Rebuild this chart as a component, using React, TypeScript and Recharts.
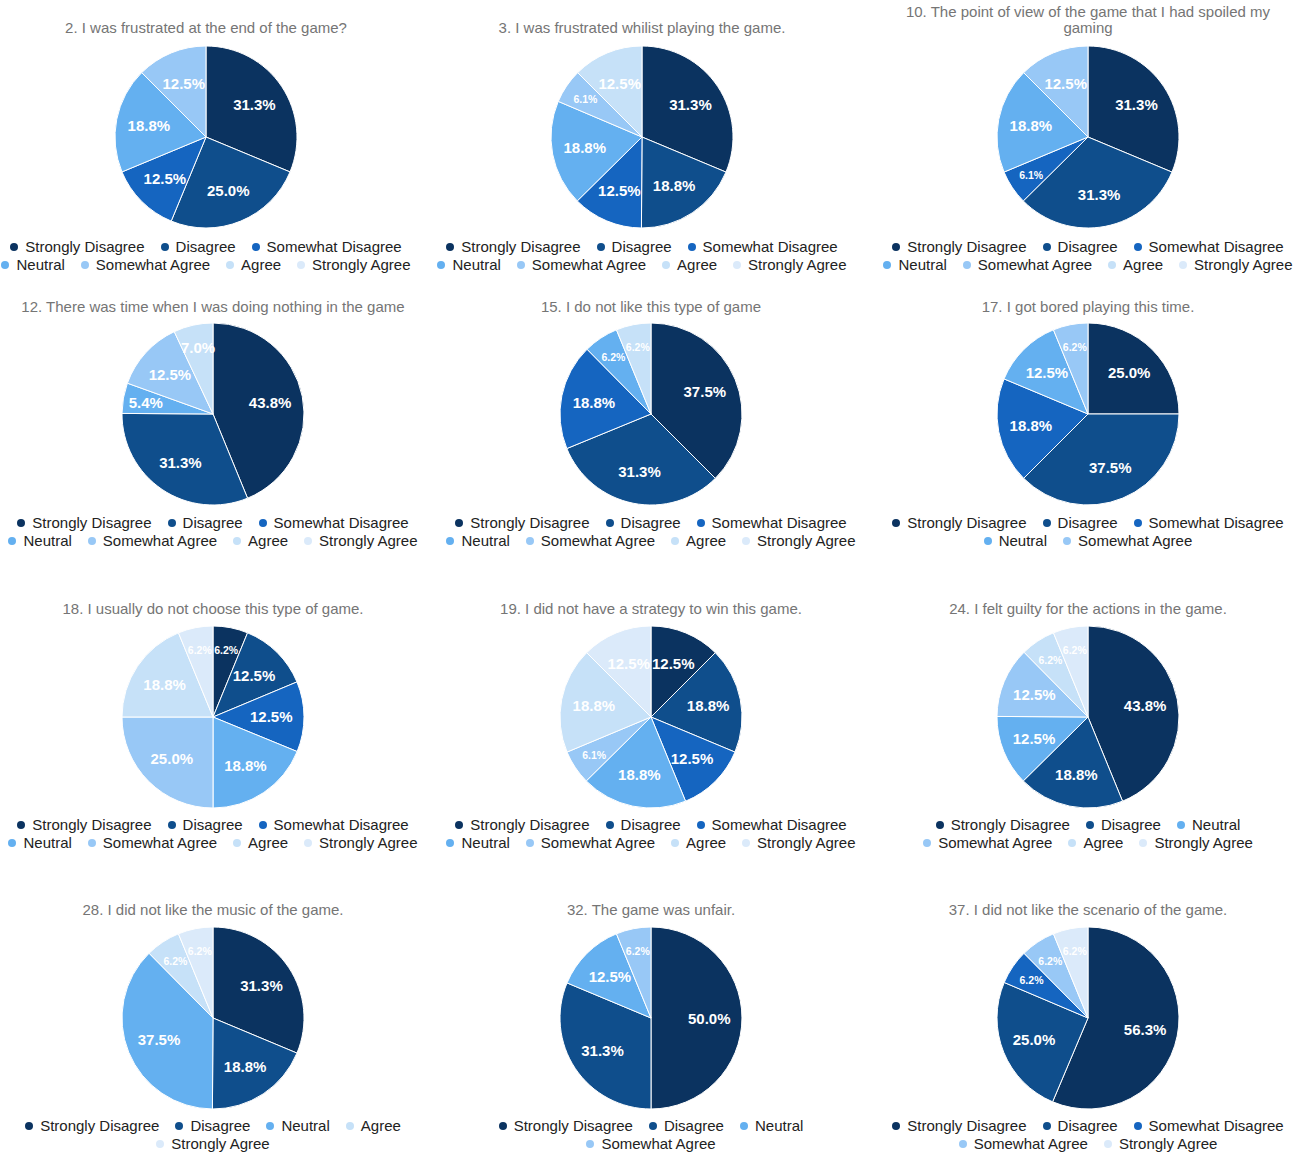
import { PieChart, Pie, Cell } from 'recharts';

const SD = 'Strongly Disagree';
const D = 'Disagree';
const SWD = 'Somewhat Disagree';
const N = 'Neutral';
const SWA = 'Somewhat Agree';
const A = 'Agree';
const SA = 'Strongly Agree';

const allCategories = [SD, D, SWD, N, SWA, A, SA];

const colorOf: Record<string, string> = {
  [SD]: '#0b3360',
  [D]: '#0f4e8c',
  [SWD]: '#1565c0',
  [N]: '#64b0f0',
  [SWA]: '#98c8f6',
  [A]: '#c6e1f8',
  [SA]: '#dbeafa',
};

// one question per chart: legend categories + percent values
const q2Categories = allCategories;
const q2Values = [31.3, 25.0, 12.5, 18.8, 12.5, 0, 0];

const q3Categories = allCategories;
const q3Values = [31.3, 18.8, 12.5, 18.8, 6.1, 12.5, 0];

const q10Categories = allCategories;
const q10Values = [31.3, 31.3, 6.1, 18.8, 12.5, 0, 0];

const q12Categories = allCategories;
const q12Values = [43.8, 31.3, 0, 5.4, 12.5, 7.0, 0];

const q15Categories = allCategories;
const q15Values = [37.5, 31.3, 18.8, 6.2, 0, 6.2, 0];

const q17Categories = [SD, D, SWD, N, SWA];
const q17Values = [25.0, 37.5, 18.8, 12.5, 6.2];

const q18Categories = allCategories;
const q18Values = [6.2, 12.5, 12.5, 18.8, 25.0, 18.8, 6.2];

const q19Categories = allCategories;
const q19Values = [12.5, 18.8, 12.5, 18.8, 6.1, 18.8, 12.5];

const q24Categories = [SD, D, N, SWA, A, SA];
const q24Values = [43.8, 18.8, 12.5, 12.5, 6.2, 6.2];

const q28Categories = [SD, D, N, A, SA];
const q28Values = [31.3, 18.8, 37.5, 6.2, 6.2];

const q32Categories = [SD, D, N, SWA];
const q32Values = [50.0, 31.3, 12.5, 6.2];

const q37Categories = [SD, D, SWD, SWA, SA];
const q37Values = [56.3, 25.0, 6.2, 6.2, 6.2];

const titles = [
  '2. I was frustrated at the end of the game?',
  '3. I was frustrated whilist playing the game.',
  '10. The point of view of the game that I had spoiled my gaming',
  '12. There was time when I was doing nothing in the game',
  '15. I do not like this type of game',
  '17. I got bored playing this time.',
  '18. I usually do not choose this type of game.',
  '19. I did not have a strategy to win this game.',
  '24. I felt guilty for the actions in the game.',
  '28. I did not like the music of the game.',
  '32. The game was unfair.',
  '37. I did not like the scenario of the game.',
];

const categoryLists = [
  q2Categories, q3Categories, q10Categories, q12Categories, q15Categories, q17Categories,
  q18Categories, q19Categories, q24Categories, q28Categories, q32Categories, q37Categories,
];
const valueLists = [
  q2Values, q3Values, q10Values, q12Values, q15Values, q17Values,
  q18Values, q19Values, q24Values, q28Values, q32Values, q37Values,
];

// layout (page coordinates)
const centerX = [206, 642, 1088, 213, 651, 1088, 213, 651, 1088, 213, 651, 1088];
const rowTitleY = [27, 306, 608, 909];
const rowPieY = [137, 414, 717, 1018];
const rowLegendY = [247, 523, 825, 1126];
const RADIUS = 91;
const FONT = 'Arial, "Liberation Sans", Helvetica, sans-serif';

const RAD = Math.PI / 180;

const renderLabel = (props: any) => {
  const { cx, cy, midAngle, outerRadius, value } = props;
  if (!value) return null;
  const small = value > 6 && value < 7;
  const r = outerRadius * (value >= 10 ? 0.64 : 0.75);
  const x = cx + r * Math.cos(-midAngle * RAD);
  const y = cy + r * Math.sin(-midAngle * RAD);
  return (
    <text
      x={x}
      y={y}
      fill="#ffffff"
      textAnchor="middle"
      dominantBaseline="central"
      fontFamily={FONT}
      fontWeight="bold"
      fontSize={small ? 10.5 : 15}
    >
      {value.toFixed(1) + '%'}
    </text>
  );
};

const QuestionPie = ({ index }: { index: number }) => {
  const row = Math.floor(index / 3);
  const cx = centerX[index];
  const cats = categoryLists[index];
  const vals = valueLists[index];
  const data = cats
    .map((name, i) => ({ name, value: vals[i], color: colorOf[name] }))
    .filter((d) => d.value > 0);

  return (
    <>
      <div
        style={{
          position: 'absolute',
          left: cx - 205,
          width: 410,
          bottom: 1153 - (rowTitleY[row] + 9),
          textAlign: 'center',
          fontFamily: FONT,
          fontSize: 15,
          lineHeight: '16px',
          color: '#757575',
        }}
      >
        {titles[index]}
      </div>
      <div style={{ position: 'absolute', left: cx - 220, top: rowPieY[row] - 100 }}>
        <PieChart width={440} height={200} margin={{ top: 0, right: 0, bottom: 0, left: 0 }}>
          <Pie
            data={data}
            dataKey="value"
            nameKey="name"
            cx={220}
            cy={100}
            outerRadius={RADIUS}
            startAngle={90}
            endAngle={-270}
            stroke="#ffffff"
            strokeWidth={1}
            label={renderLabel}
            labelLine={false}
            isAnimationActive={false}
          >
            {data.map((d) => (
              <Cell key={d.name} fill={d.color} />
            ))}
          </Pie>
        </PieChart>
      </div>
      <div
        style={{
          position: 'absolute',
          left: cx - 215,
          width: 430,
          top: rowLegendY[row] - 9,
          display: 'flex',
          flexWrap: 'wrap',
          justifyContent: 'center',
          columnGap: 16,
          fontFamily: FONT,
          fontSize: 15,
          lineHeight: '18px',
          color: '#222222',
        }}
      >
        {cats.map((name) => (
          <div key={name} style={{ display: 'flex', alignItems: 'center', whiteSpace: 'nowrap' }}>
            <span
              style={{
                display: 'inline-block',
                width: 8,
                height: 8,
                borderRadius: 4,
                background: colorOf[name],
                marginRight: 7,
              }}
            />
            {name}
          </div>
        ))}
      </div>
    </>
  );
};

export default function App() {
  return (
    <div
      style={{
        position: 'absolute',
        left: 0,
        top: 0,
        width: 1311,
        height: 1153,
        background: '#ffffff',
        overflow: 'hidden',
      }}
    >
      {titles.map((_, i) => (
        <QuestionPie key={i} index={i} />
      ))}
    </div>
  );
}
